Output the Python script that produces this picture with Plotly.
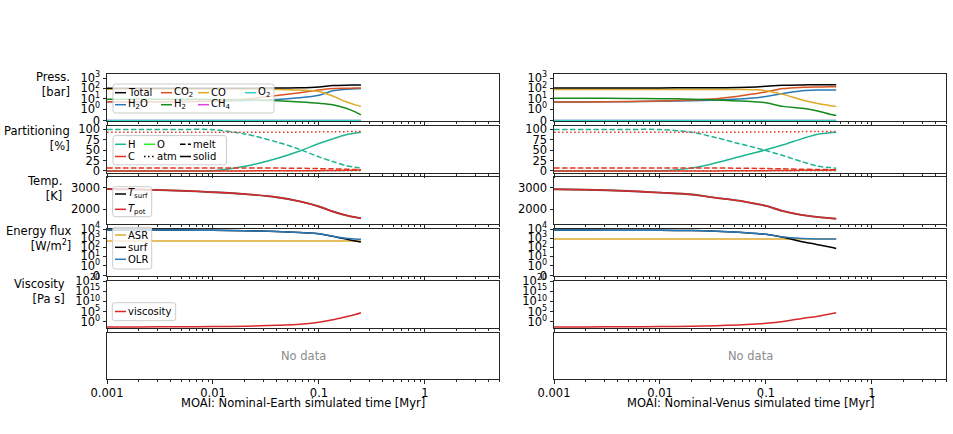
import math
import plotly.graph_objects as go

# ---------------- data ----------------
t_earth = [0.001, 0.002, 0.005, 0.01, 0.02, 0.04, 0.066, 0.1, 0.135, 0.18, 0.22, 0.249]
t_venus = [0.001, 0.002, 0.005, 0.01, 0.02, 0.034, 0.055, 0.082, 0.1, 0.145, 0.22, 0.3, 0.4, 0.46]

# surface partial pressures [bar]
p_total_earth = [100, 100, 101, 102, 104, 107, 112, 135, 187, 205, 208, 210]
p_h2o_earth = [5, 5, 5.2, 5.5, 6.5, 8.5, 12, 21, 58, 80, 92, 98]
p_co2_earth = [5, 5, 5.3, 6, 9, 20, 38, 70, 95, 102, 106, 108]
p_co_earth = [80, 80, 80, 80, 80, 79, 68, 50, 18, 5, 2.5, 1.8]
p_h2_earth = [9, 9, 8.8, 8.5, 7.8, 6.2, 4.8, 3.6, 2.6, 1.2, 0.75, 0.49]
p_ch4_earth = [0] * 12
p_o2_earth = [0] * 12

p_total_venus = [110, 110, 110, 111, 112, 114, 120, 138, 158, 200, 215, 218, 220, 220]
p_h2o_venus = [4.8, 4.9, 5.1, 5.5, 6.3, 7.5, 9.5, 12.6, 16, 32, 58, 68, 70, 70]
p_co2_venus = [4.8, 4.9, 5.3, 6, 7.5, 10, 17, 32, 45, 95, 125, 135, 140, 140]
p_co_venus = [78, 78, 78, 78, 78, 78, 77, 73, 60, 26, 7.5, 3.6, 2.2, 1.8]
p_h2_venus = [11, 11, 10.5, 10, 9, 7.5, 6, 4.8, 4, 1.8, 1.2, 0.85, 0.55, 0.43]
p_ch4_venus = [0] * 14
p_o2_venus = [0] * 14

# volatile partitioning [%]
h_melt_earth = [99.7, 99.7, 99.7, 99.2, 88.7, 69.7, 51.7, 33.7, 22.7, 12.7, 8.7, 6.7]
h_atm_earth = [0.3] * 12
h_solid_earth = [0, 0, 0, 0.5, 11, 30, 48, 66, 77, 87, 91, 93]
c_melt_earth = [7, 7, 7, 7, 7, 6.8, 6.3, 5.5, 5, 4, 3.5, 3]
c_atm_earth = [93, 93, 93, 93, 93, 93, 93.3, 93.9, 94, 94.5, 94.9, 95]
c_solid_earth = [0, 0, 0, 0, 0.1, 0.2, 0.4, 0.6, 1, 1.5, 1.6, 2]

h_melt_venus = [99.7, 99.7, 99.7, 99.5, 93, 80, 66, 55, 49, 37, 22, 12, 8, 6.5]
h_atm_venus = [0.3] * 14
h_solid_venus = [0, 0, 0, 0.2, 6.7, 19.7, 33.7, 44.7, 50.7, 62.7, 77.7, 87.7, 91.7, 93.2]
c_melt_venus = [7, 7, 7, 7, 7, 6.9, 6.6, 6.1, 5.8, 5, 4, 3.5, 3.1, 3]
c_atm_venus = [93, 93, 93, 93, 93, 93, 93.2, 93.5, 93.7, 94, 94.5, 94.8, 95, 95]
c_solid_venus = [0, 0, 0, 0, 0, 0.1, 0.2, 0.4, 0.5, 1, 1.5, 1.7, 1.9, 2]

# temperatures [K]
t_surf_earth = [2950, 2925, 2870, 2800, 2710, 2560, 2360, 2120, 1880, 1700, 1610, 1560]
t_pot_earth = [2950, 2925, 2870, 2800, 2710, 2560, 2360, 2120, 1880, 1700, 1610, 1560]
t_surf_venus = [2940, 2915, 2860, 2780, 2690, 2530, 2400, 2240, 2150, 1900, 1710, 1625, 1565, 1540]
t_pot_venus = [2940, 2915, 2860, 2780, 2690, 2530, 2400, 2240, 2150, 1900, 1710, 1625, 1565, 1540]

# energy fluxes [W/m2]
asr_earth = [480] * 12
surf_earth = [8000, 7900, 7700, 7500, 6600, 5400, 4200, 3100, 1600, 800, 500, 375]
olr_earth = [8000, 7900, 7700, 7500, 6600, 5400, 4200, 3100, 1650, 1000, 830, 760]
asr_venus = [810] * 14
surf_venus = [7800, 7700, 7600, 7400, 6800, 5900, 4600, 3300, 2700, 1300, 420, 210, 110, 74]
olr_venus = [7800, 7700, 7600, 7400, 6800, 5900, 4600, 3300, 2700, 1350, 950, 830, 810, 810]

# viscosity [Pa s]
visc_earth = [0.0025, 0.0026, 0.0032, 0.004, 0.0063, 0.016, 0.05, 0.56, 8, 250, 3200, 25000]
visc_venus = [0.0025, 0.0026, 0.0032, 0.004, 0.0063, 0.011, 0.025, 0.08, 0.16, 1.26, 40, 400, 6300, 25000]

case_names = ["Nominal-Earth", "Nominal-Venus"]
x_tick_vals = [0.001, 0.01, 0.1, 1]
x_tick_text = ["0.001", "0.01", "0.1", "1"]
row_labels = ["Press.<br>[bar]", "Partitioning<br>[%]", "Temp.<br>[K]",
              "Energy flux<br>[W/m<sup>2</sup>]", "Viscosity<br>[Pa s]"]

# ---------------- helpers ----------------
W, H = 953, 434
FONT = "DejaVu Sans"
SPINE = "#262626"


def symlog(v, linthresh=1.0, base=10.0, linscale=1.0):
    adj = linscale / (1.0 - 1.0 / base)
    if abs(v) <= linthresh:
        return v / linthresh * adj * linthresh
    s = 1 if v > 0 else -1
    return s * linthresh * (adj + math.log10(abs(v) / linthresh))


def X(px):
    return px / W


def Y(py):
    return 1 - py / H


col_px = [(107, 499), (554, 946)]
row_px = [(74, 121), (126, 173), (177, 224), (229, 276), (281, 328), (333, 379)]


def ids(r, c):
    n = r * 2 + c + 1
    s = "" if n == 1 else str(n)
    return "x" + s, "y" + s, "xaxis" + s, "yaxis" + s


fig = go.Figure()

C = dict(total="#000000", h2o="#2a78b5", co2="#d9541e", co="#dcaa26", o2="#2ed3c2",
         h2="#168a1c", ch4="#e040e0", H="#1fb592", O="#22ee22", Cc="#e6321e",
         tpot="#d8282a", asr="#deaa2c", surf="#000000", olr="#2a78b5", visc="#d8282a")
DASH = "5.5px,2.4px"
DOT = "1.5px,2.5px"


def line(r, c, t, vals, color, name, dash="solid", transform=None, width=1.5):
    xa, ya, _, _ = ids(r, c)
    yv = [transform(v) for v in vals] if transform else vals
    fig.add_trace(go.Scatter(x=t, y=yv, mode="lines", name=name, showlegend=False,
                             line=dict(color=color, width=width, dash=dash,
                                       shape="spline", smoothing=0.8),
                             xaxis=xa, yaxis=ya, hoverinfo="skip"))


data = {
    0: dict(t=t_earth, tot=p_total_earth, h2o=p_h2o_earth, co2=p_co2_earth, co=p_co_earth,
            h2=p_h2_earth, ch4=p_ch4_earth, o2=p_o2_earth,
            hm=h_melt_earth, ha=h_atm_earth, hs=h_solid_earth,
            cm=c_melt_earth, ca=c_atm_earth, cs=c_solid_earth,
            ts=t_surf_earth, tp=t_pot_earth, asr=asr_earth, surf=surf_earth, olr=olr_earth,
            visc=visc_earth),
    1: dict(t=t_venus, tot=p_total_venus, h2o=p_h2o_venus, co2=p_co2_venus, co=p_co_venus,
            h2=p_h2_venus, ch4=p_ch4_venus, o2=p_o2_venus,
            hm=h_melt_venus, ha=h_atm_venus, hs=h_solid_venus,
            cm=c_melt_venus, ca=c_atm_venus, cs=c_solid_venus,
            ts=t_surf_venus, tp=t_pot_venus, asr=asr_venus, surf=surf_venus, olr=olr_venus,
            visc=visc_venus),
}

for c in (0, 1):
    d = data[c]
    t = d["t"]
    # pressures
    line(0, c, t, d["h2o"], C["h2o"], "H2O", transform=symlog)
    line(0, c, t, d["co2"], C["co2"], "CO2", transform=symlog)
    line(0, c, t, d["co"], C["co"], "CO", transform=symlog)
    line(0, c, t, d["h2"], C["h2"], "H2", transform=symlog)
    line(0, c, t, d["ch4"], C["ch4"], "CH4", transform=symlog)
    line(0, c, t, d["o2"], C["o2"], "O2", transform=symlog)
    line(0, c, t, d["tot"], C["total"], "Total", transform=symlog)
    # partitioning
    line(1, c, t, d["hm"], C["H"], "H melt", dash=DASH)
    line(1, c, t, d["ha"], C["H"], "H atm", dash=DOT)
    line(1, c, t, d["hs"], C["H"], "H solid")
    line(1, c, t, d["cm"], C["Cc"], "C melt", dash=DASH)
    line(1, c, t, d["ca"], C["Cc"], "C atm", dash=DOT)
    line(1, c, t, d["cs"], C["Cc"], "C solid")
    # temperature
    line(2, c, t, d["ts"], "#555555", "T_surf", width=1.9)
    line(2, c, t, d["tp"], C["tpot"], "T_pot")
    # fluxes
    line(3, c, t, d["asr"], C["asr"], "ASR", transform=symlog)
    line(3, c, t, d["surf"], C["surf"], "surf", transform=symlog)
    line(3, c, t, d["olr"], C["olr"], "OLR", transform=symlog)
    # viscosity
    line(4, c, t, d["visc"], C["visc"], "viscosity")
    # empty "No data" panel (needs a trace so that the subplot is drawn)
    xa, ya, _, _ = ids(5, c)
    fig.add_trace(go.Scatter(x=[None], y=[None], mode="lines", showlegend=False,
                             xaxis=xa, yaxis=ya, hoverinfo="skip"))

# ---------------- axes ----------------
minor_vals = [k * 10 ** e for e in range(-3, 1) for k in range(2, 10) if k * 10 ** e <= 5]

sup = lambda e: "10<sup>%d</sup>" % e
yconf = [
    dict(range=[-0.05, 4.5], tickvals=[symlog(v) for v in [0, 1, 10, 100, 1000]],
         ticktext=["0"] + [sup(e) for e in range(0, 4)]),
    dict(range=[-5, 108], tickvals=[0, 25, 50, 75, 100], ticktext=["0", "25", "50", "75", "100"]),
    dict(range=[1286, 3523], tickvals=[2000, 3000], ticktext=["2000", "3000"]),
    dict(range=[-0.03, 5.12], tickvals=[symlog(v) for v in [0, 1, 10, 100, 1000, 10000]],
         ticktext=["0"] + [sup(e) for e in range(0, 5)]),
    dict(type="log", range=[-3.1, 20], tickvals=[1, 1e5, 1e10, 1e15, 1e20],
         ticktext=[sup(e) for e in (0, 5, 10, 15, 20)]),
    dict(range=[0, 1], ticks="", showticklabels=False),
]

common = dict(showline=True, mirror=True, linecolor=SPINE, linewidth=1, showgrid=False,
              zeroline=False, ticks="outside", ticklen=3.5, tickwidth=0.8, tickcolor=SPINE,
              tickfont=dict(family=FONT, size=11.5, color="#000"), fixedrange=True,
              automargin=False)

for r in range(6):
    for c in range(2):
        xa, ya, xk, yk = ids(r, c)
        x0, x1 = col_px[c]
        y0, y1 = row_px[r]
        xcfg = dict(common, type="log", range=[-3, math.log10(5)], domain=[X(x0), X(x1)],
                    anchor=ya, tickmode="array", tickvals=x_tick_vals, ticktext=x_tick_text,
                    showticklabels=(r == 5),
                    minor=dict(tickmode="array", tickvals=minor_vals, ticks="outside",
                               ticklen=2, tickwidth=0.6, tickcolor=SPINE, showgrid=False))
        ycfg = dict(common, domain=[Y(y1), Y(y0)], anchor=xa)
        ycfg.update(yconf[r])
        if r < 5:
            ycfg["tickmode"] = "array"
        fig.layout[xk] = xcfg
        fig.layout[yk] = ycfg

annotations = []
shapes = []

# row labels (left column only)
label_pos = [(72, 84.5), (72, 138), (64, 188), (73, 238.5), (67, 291)]
for text, (rx, cy) in zip(row_labels, label_pos):
    annotations.append(dict(text=text, x=X(rx), y=Y(cy), xref="paper", yref="paper",
                            xanchor="right", yanchor="middle", align="right", showarrow=False,
                            font=dict(family=FONT, size=11.5, color="#000")))

# x titles and "No data"
for c in range(2):
    x0, x1 = col_px[c]
    annotations.append(dict(text="MOAI: %s simulated time [Myr]" % case_names[c],
                            x=X((x0 + x1) / 2), y=Y(403), xref="paper", yref="paper",
                            xanchor="center", yanchor="middle", showarrow=False,
                            font=dict(family=FONT, size=11.5, color="#000")))
    y0, y1 = row_px[5]
    annotations.append(dict(text="No data", x=X((x0 + x1) / 2), y=Y((y0 + y1) / 2),
                            xref="paper", yref="paper", xanchor="center", yanchor="middle",
                            showarrow=False, font=dict(family=FONT, size=11.5, color="#8c8c8c")))


# ---------------- legends (Earth panels) ----------------
def legend_box(x0, y0, x1, y1, rad=2.5):
    p = ("M{a},{b} L{c},{b} Q{x1},{b} {x1},{d} L{x1},{e} Q{x1},{y1} {c},{y1} "
         "L{a},{y1} Q{x0},{y1} {x0},{e} L{x0},{d} Q{x0},{b} {a},{b} Z").format(
        a=X(x0 + rad), b=Y(y0), c=X(x1 - rad), d=Y(y0 + rad), e=Y(y1 - rad),
        x0=X(x0), x1=X(x1), y1=Y(y1))
    shapes.append(dict(type="path", path=p, xref="paper", yref="paper", layer="above",
                       fillcolor="rgba(255,255,255,0.8)", line=dict(color="#cccccc", width=1)))


def legend_item(hx, cy, label, color, dash="solid", hlen=11):
    shapes.append(dict(type="line", xref="paper", yref="paper", layer="above",
                       x0=X(hx), x1=X(hx + hlen), y0=Y(cy), y1=Y(cy),
                       line=dict(color=color, width=1.5, dash=dash)))
    annotations.append(dict(text=label, x=X(hx + hlen + 1.5), y=Y(cy), xref="paper",
                            yref="paper", xanchor="left", yanchor="middle", showarrow=False,
                            borderpad=0, borderwidth=0,
                            font=dict(family=FONT, size=10, color="#000")))


# pressure
legend_box(113, 84, 274, 113)
pcols = [115, 161, 198, 245]
prow = [92.7, 104.7]
for (ci, ri, lab, col) in [(0, 0, "Total", C["total"]), (1, 0, "CO<sub>2</sub>", C["co2"]),
                           (2, 0, "CO", C["co"]), (3, 0, "O<sub>2</sub>", C["o2"]),
                           (0, 1, "H<sub>2</sub>O", C["h2o"]), (1, 1, "H<sub>2</sub>", C["h2"]),
                           (2, 1, "CH<sub>4</sub>", C["ch4"])]:
    legend_item(pcols[ci], prow[ri], lab, col)

# partitioning
legend_box(113, 135.6, 226.5, 164.8)
qcols = [115, 144, 180]
qrow = [144.3, 156.5]
for (ci, ri, lab, col, dsh) in [(0, 0, "H", C["H"], "solid"), (1, 0, "O", C["O"], "solid"),
                                (2, 0, "melt", "#000", DASH), (0, 1, "C", C["Cc"], "solid"),
                                (1, 1, "atm", "#000", DOT), (2, 1, "solid", "#000", "solid")]:
    legend_item(qcols[ci], qrow[ri], lab, col, dsh)

# temperature
legend_box(112.7, 186.7, 151.7, 216.7)
legend_item(115, 194, "<i>T</i><sub>surf</sub>", "#000")
legend_item(115, 209.3, "<i>T</i><sub>pot</sub>", C["tpot"])

# energy
legend_box(112.7, 227.3, 151.7, 269)
legend_item(115, 235, "ASR", C["asr"])
legend_item(115, 247.3, "surf", C["surf"])
legend_item(115, 259.3, "OLR", C["olr"])

# viscosity
legend_box(112.3, 302.7, 175.7, 320.7)
legend_item(115, 311.5, "viscosity", C["visc"])

fig.update_layout(width=W, height=H, margin=dict(l=0, r=0, t=0, b=0, pad=0),
                  paper_bgcolor="white", plot_bgcolor="white", showlegend=False,
                  font=dict(family=FONT, size=11.5, color="#000"),
                  annotations=annotations, shapes=shapes)

fig.write_html("out.html")
